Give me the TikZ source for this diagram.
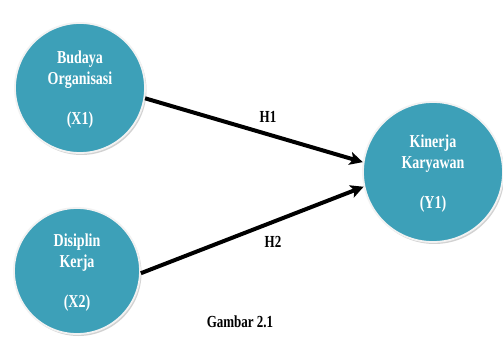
\documentclass[tikz,border=0pt]{standalone}
\usepackage{fontspec}
\setmainfont{Liberation Serif}
\usetikzlibrary{arrows.meta,shadows}
\definecolor{teal1}{HTML}{3DA0B8}
\definecolor{ring}{HTML}{F2F2F2}
\begin{document}
\begin{tikzpicture}[x=1pt,y=1pt,
  var/.style={circle,fill=teal1,draw=ring,line width=1.8pt,inner sep=0pt,
    text=white,align=center,font=\fontsize{14}{17}\selectfont\bfseries,
    drop shadow={shadow xshift=1.5pt,shadow yshift=-2pt,opacity=0.35,fill=gray}},
  arr/.style={line width=4pt,-{Stealth[length=13pt,width=13pt,inset=3pt]}},
  lbl/.style={font=\fontsize{13}{15}\selectfont\bfseries,text=black}]
\useasboundingbox[fill=white] (0,0) rectangle (503,340);
\node[var,minimum size=130pt] (b) at (80,252) {\scalebox{1}[1.3]{\begin{tabular}{c}Budaya\\[-1pt]Organisasi\end{tabular}}\\[20pt]\scalebox{1}[1.3]{(X1)}};
\node[var,minimum size=126pt] (d) at (77,69) {\scalebox{1}[1.3]{\begin{tabular}{c}Disiplin\\[-1pt]Kerja\end{tabular}}\\[20pt]\scalebox{1}[1.3]{(X2)}};
\node[var,minimum size=140pt] (k) at (433,168) {\scalebox{1}[1.3]{\begin{tabular}{c}Kinerja\\[-1pt]Karyawan\end{tabular}}\\[20pt]\scalebox{1}[1.3]{(Y1)}};
\draw[arr] (b.-9) -- (k.172);
\draw[arr] (d.-2) -- (k.192);
\node[lbl] (h1) at (268,223) {\scalebox{1}[1.3]{H1}};
\node[lbl] (h2) at (273,98) {\scalebox{1}[1.3]{H2}};
\node[lbl] (g) at (240,18) {\scalebox{1}[1.3]{Gambar 2.1}};
\end{tikzpicture}
\end{document}
